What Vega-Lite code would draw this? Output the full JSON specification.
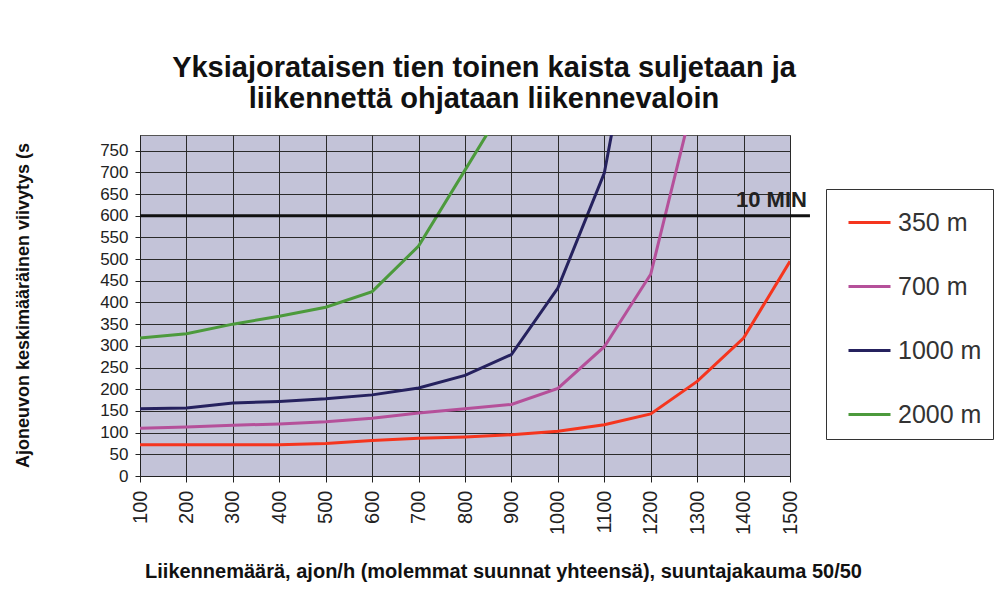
{
  "$schema": "https://vega.github.io/schema/vega-lite/v6.json",
  "width": 650,
  "height": 341,
  "autosize": {"type": "none"},
  "padding": {"left": 140, "top": 135, "right": 204, "bottom": 115},
  "background": "white",
  "title": {
    "text": ["Yksiajorataisen tien toinen kaista suljetaan ja", "liikennettä ohjataan liikennevaloin"],
    "font": "Liberation Sans",
    "fontSize": 29,
    "fontWeight": "bold",
    "color": "#111",
    "anchor": "middle",
    "dx": 19,
    "lineHeight": 31,
    "offset": 21
  },
  "config": {
    "view": {"fill": "#c3c3d8", "stroke": "#555", "strokeWidth": 1},
    "axis": {
      "labelFont": "Liberation Sans",
      "titleFont": "Liberation Sans",
      "labelColor": "#222",
      "titleColor": "#111",
      "gridColor": "#2a2a2a",
      "gridOpacity": 1,
      "gridWidth": 1,
      "domainColor": "#222",
      "tickColor": "#222"
    }
  },
  "encoding": {
    "x": {
      "field": "v", "type": "quantitative",
      "scale": {"domain": [100, 1500], "nice": false, "zero": false},
      "axis": {
        "values": [100, 200, 300, 400, 500, 600, 700, 800, 900, 1000, 1100, 1200, 1300, 1400, 1500],
        "format": "d",
        "labelAngle": 270, "labelAlign": "right", "labelBaseline": "middle",
        "labelFontSize": 20, "labelPadding": 8, "tickSize": 6,
        "grid": true, "labelFlush": false, "labelOverlap": false,
        "title": "Liikennemäärä, ajon/h (molemmat suunnat yhteensä), suuntajakauma 50/50",
        "titleFontSize": 20, "titleFontWeight": "bold",
        "titleX": 363, "titleY": 95, "titleBaseline": "middle", "titleAnchor": "middle"
      }
    },
    "y": {
      "field": "d", "type": "quantitative",
      "scale": {"domain": [0, 786], "nice": false},
      "axis": {
        "values": [0, 50, 100, 150, 200, 250, 300, 350, 400, 450, 500, 550, 600, 650, 700, 750],
        "labelFontSize": 17, "labelPadding": 7, "tickSize": 5, "labelOverlap": false,
        "grid": true,
        "title": "Ajoneuvon keskimääräinen viivytys (s",
        "titleFontSize": 18, "titleFontWeight": "bold",
        "titleX": -117, "titleY": 170, "titleAngle": 270, "titleBaseline": "middle", "titleAnchor": "middle"
      }
    }
  },
  "layer": [
    {
      "data": {
        "values": [
          {"v": 100, "s": "350 m", "d": 72}, {"v": 200, "s": "350 m", "d": 72}, {"v": 300, "s": "350 m", "d": 72}, {"v": 400, "s": "350 m", "d": 72}, {"v": 500, "s": "350 m", "d": 75}, {"v": 600, "s": "350 m", "d": 82}, {"v": 700, "s": "350 m", "d": 87}, {"v": 800, "s": "350 m", "d": 90}, {"v": 900, "s": "350 m", "d": 95}, {"v": 1000, "s": "350 m", "d": 103}, {"v": 1100, "s": "350 m", "d": 118}, {"v": 1200, "s": "350 m", "d": 143}, {"v": 1300, "s": "350 m", "d": 218}, {"v": 1400, "s": "350 m", "d": 318}, {"v": 1500, "s": "350 m", "d": 495},
          {"v": 100, "s": "700 m", "d": 110}, {"v": 200, "s": "700 m", "d": 113}, {"v": 300, "s": "700 m", "d": 117}, {"v": 400, "s": "700 m", "d": 120}, {"v": 500, "s": "700 m", "d": 125}, {"v": 600, "s": "700 m", "d": 133}, {"v": 700, "s": "700 m", "d": 145}, {"v": 800, "s": "700 m", "d": 155}, {"v": 900, "s": "700 m", "d": 165}, {"v": 1000, "s": "700 m", "d": 202}, {"v": 1100, "s": "700 m", "d": 298}, {"v": 1200, "s": "700 m", "d": 465}, {"v": 1300, "s": "700 m", "d": 900},
          {"v": 100, "s": "1000 m", "d": 155}, {"v": 200, "s": "1000 m", "d": 157}, {"v": 300, "s": "1000 m", "d": 168}, {"v": 400, "s": "1000 m", "d": 172}, {"v": 500, "s": "1000 m", "d": 178}, {"v": 600, "s": "1000 m", "d": 187}, {"v": 700, "s": "1000 m", "d": 203}, {"v": 800, "s": "1000 m", "d": 232}, {"v": 900, "s": "1000 m", "d": 280}, {"v": 1000, "s": "1000 m", "d": 433}, {"v": 1100, "s": "1000 m", "d": 698}, {"v": 1200, "s": "1000 m", "d": 1270},
          {"v": 100, "s": "2000 m", "d": 318}, {"v": 200, "s": "2000 m", "d": 328}, {"v": 300, "s": "2000 m", "d": 350}, {"v": 400, "s": "2000 m", "d": 368}, {"v": 500, "s": "2000 m", "d": 389}, {"v": 600, "s": "2000 m", "d": 425}, {"v": 700, "s": "2000 m", "d": 530}, {"v": 800, "s": "2000 m", "d": 705}, {"v": 900, "s": "2000 m", "d": 880}
        ]
      },
      "mark": {"type": "line", "clip": true, "strokeWidth": 3},
      "encoding": {
        "color": {
          "field": "s", "type": "nominal",
          "scale": {"domain": ["350 m", "700 m", "1000 m", "2000 m"], "range": ["#f5351e", "#b5509a", "#25215e", "#4c9a3c"]},
          "legend": {
            "title": null,
            "orient": "none", "legendX": 686, "legendY": 54,
            "fillColor": "white", "strokeColor": "#333", "cornerRadius": 0,
            "padding": 11, "symbolOffset": 10, "symbolType": "stroke", "symbolSize": 1764, "symbolStrokeWidth": 3,
            "labelFont": "Liberation Sans", "labelFontSize": 25, "labelColor": "#333",
            "rowPadding": 28, "labelOffset": 6, "labelLimit": 200
          }
        }
      }
    },
    {
      "data": {"values": [{"v": 100, "v2": 1543, "d": 600}]},
      "mark": {"type": "rule", "stroke": "#111", "strokeWidth": 3, "clip": false},
      "encoding": {"x2": {"field": "v2"}}
    },
    {
      "data": {"values": [{"v": 1460, "d": 600, "label": "10 MIN"}]},
      "mark": {"type": "text", "font": "Liberation Sans", "fontSize": 22, "fontWeight": "bold", "color": "#222", "align": "center", "baseline": "bottom", "dy": -4},
      "encoding": {"text": {"field": "label"}}
    }
  ]
}
